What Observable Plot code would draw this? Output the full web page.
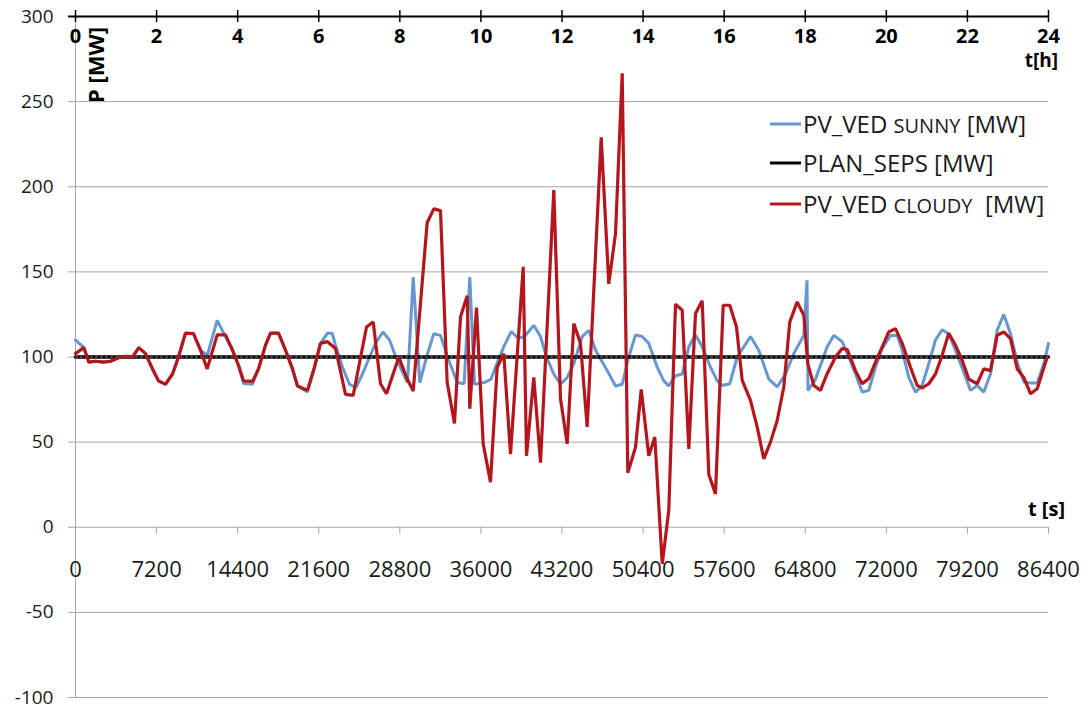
<!DOCTYPE html>
<html><head><meta charset="utf-8">
<script src="https://cdn.jsdelivr.net/npm/d3@7"></script>
<script src="https://cdn.jsdelivr.net/npm/@observablehq/plot@0.6"></script>
<style>body{margin:0;background:#fff}</style>
</head><body><div id="chart"></div>
<script>
// time in hours, power in MW
const sunnyH = [0,0.205,0.328,0.493,0.691,0.863,1.061,1.233,1.406,1.561,1.727,1.899,2.047,2.220,2.393,2.541,2.713,2.911,3.083,3.249,3.495,3.700,3.873,4.021,4.144,4.366,4.514,4.687,4.810,5.007,5.180,5.352,5.476,5.722,5.895,6.043,6.216,6.332,6.413,6.586,6.758,6.916,7.079,7.252,7.424,7.585,7.745,7.918,8.090,8.189,8.330,8.493,8.658,8.838,9.003,9.176,9.418,9.585,9.726,9.842,10.088,10.249,10.409,10.581,10.749,10.917,11.075,11.304,11.470,11.618,11.798,11.963,12.128,12.291,12.498,12.661,12.826,13.115,13.320,13.485,13.648,13.813,13.978,14.141,14.348,14.511,14.634,14.800,14.965,15.128,15.293,15.458,15.663,15.828,15.951,16.139,16.321,16.649,16.854,17.101,17.308,17.513,17.718,17.964,18.043,18.068,18.253,18.541,18.704,18.911,19.074,19.239,19.404,19.567,19.732,19.898,20.103,20.268,20.391,20.554,20.720,20.884,21.047,21.212,21.377,21.540,21.705,21.911,22.076,22.241,22.404,22.569,22.734,22.897,23.063,23.228,23.391,23.556,23.721,23.885,24.0];
const sunnyMW = [110,105.5,97,97.5,97,97.5,99.6,100.4,100,105.5,102,93,86,84,90,100,114,113.7,104,101,121.5,112,104,95,84.5,84,93,107,114,114,104,93,83,79.5,94,108,114,114,107,94,84,82,90,100,109,114.7,110,99,90,85,147,85,100,113.7,112.7,100,85,84.3,147,84,85,87,97,107,115,111,112,118.6,112,100,90,84,88,96,112,115.7,104,92,83,84,100,113,112,108,94,86,83,89,90,106,113,106,94,86,83.3,84.3,100,112,104,87,82.4,90,102,112.7,145,80.4,87,106,112.7,109,100,90,79.4,80.4,94,105,112.7,112.7,104,88,79.4,83.3,96,110,116,113.7,104,91,80.4,83.3,79.4,90,115.7,125,113.7,97,85.3,84.7,84.7,96,108];

const planH = [0, 24];
const planMW = [100, 100];

const cloudyH = [0,0.205,0.328,0.493,0.691,0.863,1.061,1.233,1.406,1.561,1.727,1.899,2.047,2.220,2.393,2.541,2.713,2.911,3.083,3.249,3.495,3.700,3.873,4.021,4.144,4.366,4.514,4.687,4.810,5.007,5.180,5.352,5.476,5.722,5.895,6.043,6.216,6.413,6.660,6.850,7.178,7.343,7.523,7.671,7.975,8.164,8.330,8.675,8.838,9.003,9.168,9.348,9.496,9.662,9.726,9.891,10.056,10.236,10.401,10.564,10.730,11.043,11.124,11.304,11.470,11.798,11.963,12.128,12.291,12.456,12.621,12.967,13.154,13.320,13.485,13.623,13.813,13.954,14.141,14.289,14.472,14.634,14.800,14.965,15.128,15.293,15.458,15.621,15.786,15.976,16.139,16.304,16.445,16.649,16.815,16.977,17.143,17.308,17.471,17.619,17.801,17.964,18.063,18.211,18.376,18.541,18.746,18.911,19.035,19.239,19.404,19.567,19.732,19.898,20.060,20.226,20.391,20.596,20.761,20.884,21.047,21.212,21.377,21.540,21.705,21.871,22.034,22.241,22.404,22.569,22.734,22.897,23.063,23.228,23.391,23.556,23.721,23.968];
const cloudyMW = [102,105.5,97,97.5,97,97.5,99.6,100.4,100,105.5,102,93,86,84,90,100,114,113.7,104,93,113,113,104,95,86,85.7,93,107,114,114,104,93,83,80.5,94,108,109,105,78,77.5,117.6,120.6,84.3,78.4,100,88,80,179,187,186,85,61,123.5,136,69.6,129,49,26.5,94,102,43,153,42,88,38,198,75.5,49,119.6,108,59,229,143,172.5,266.7,32,47,81,42,53,-21.6,10,131,127.5,46,125.5,133,31,19.6,130.4,130.4,117.6,86.3,74.5,58.8,40.2,50,62.7,82.4,120.6,132.4,124.5,96,83.3,80.4,90.2,100,105,104.3,92,84.3,87.3,97,106,114.7,116.7,108,94,83.3,81.8,84.3,90,101,114,107,98,87,84.3,93,92,112.7,114.7,110.8,93,88,78.4,81.4,100];

const yTicks = [-100, -50, 0, 50, 100, 150, 200, 250, 300];
const hourTicks = [0, 2, 4, 6, 8, 10, 12, 14, 16, 18, 20, 22, 24];
const secTicks = [0, 7200, 14400, 21600, 28800, 36000, 43200, 50400, 57600, 64800, 72000, 79200, 86400];

const seriesNames = [["PV_VED ", "SUNNY", " [MW]"], ["PLAN_SEPS [MW]", "", ""], ["PV_VED ", "CLOUDY", "  [MW]"]];
const seriesColors = ["#6797cf", "#000000", "#b3161c"];

const rows = (h, v) => h.map((t, i) => ({t, v: v[i]}));
const sunny = rows(sunnyH, sunnyMW);
const plan = rows(planH, planMW);
const cloudy = rows(cloudyH, cloudyMW);

const grid = "#a6a6a6";
const plot = Plot.plot({
  width: 1088, height: 707,
  marginLeft: 75, marginRight: 40, marginTop: 16, marginBottom: 10,
  style: {fontFamily: "'Open Sans', sans-serif", background: "white", overflow: "visible"},
  x: {domain: [0, 24], axis: null},
  y: {domain: [-100, 300], axis: null},
  marks: [
    Plot.ruleY(yTicks.filter(d => d !== 300), {stroke: grid, strokeWidth: 1, insetLeft: -7}),
    Plot.ruleX([0], {stroke: grid, strokeWidth: 1}),
    Plot.ruleX(secTicks, {x: d => d / 3600, y1: 0, y2: 0, insetTop: 0, insetBottom: -7, stroke: grid}),
    Plot.axisY(yTicks, {tickSize: 0, tickPadding: 22, fontSize: 19, fill: "#1a1a1a", label: null, tickFormat: d => String(d)}),
    Plot.text(secTicks, {x: d => d / 3600, y: 0, dy: 43, text: d => String(d), fontSize: 22, fill: "#1a1a1a"}),
    Plot.line(sunny, {x: "t", y: "v", stroke: seriesColors[0], strokeWidth: 3, strokeLinejoin: "miter"}),
    Plot.line(plan, {x: "t", y: "v", stroke: seriesColors[1], strokeWidth: 3.5}),
    Plot.line(plan, {x: "t", y: "v", stroke: "white", strokeWidth: 1, strokeDasharray: "2,3", strokeOpacity: 0.55}),
    Plot.line(cloudy, {x: "t", y: "v", stroke: seriesColors[2], strokeWidth: 3.2, strokeLinejoin: "miter"}),
    Plot.ruleY([300], {stroke: "black", strokeWidth: 2, insetLeft: -7}),
    Plot.ruleX(hourTicks, {x: d => d, y1: 300, y2: 300, insetTop: -6, insetBottom: -6, stroke: "black", strokeWidth: 1.5}),
    Plot.text(hourTicks, {x: d => d, y: 300, dy: 20, text: d => String(d), fontWeight: "bold", fontSize: 20, fill: "black"})
  ]
});

const svg = d3.select(plot);
const ann = svg.append("g").attr("font-family", "'Open Sans', sans-serif").attr("fill", "black").attr("text-anchor", "start");
ann.append("text").attr("transform", "translate(104,103) rotate(-90)").attr("text-anchor", "start")
  .attr("font-weight", "bold").attr("font-size", 22).text("P [MW]");
ann.append("text").attr("x", 1058).attr("y", 60).attr("dy", "0.35em").attr("text-anchor", "end")
  .attr("font-weight", "bold").attr("font-size", 19).text("t[h]");
ann.append("text").attr("x", 1065).attr("y", 509).attr("dy", "0.35em").attr("text-anchor", "end")
  .attr("font-weight", "bold").attr("font-size", 20).text("t [s]");

const legendY = [124, 163, 204];
seriesNames.forEach((parts, i) => {
  const y = legendY[i];
  ann.append("line").attr("x1", 770).attr("x2", 801).attr("y1", y).attr("y2", y)
    .attr("stroke", seriesColors[i]).attr("stroke-width", 3);
  const t = ann.append("text").attr("x", 803).attr("y", y).attr("dy", "0.36em").attr("text-anchor", "start")
    .attr("font-size", 24).attr("fill", "#1a1a1a").attr("xml:space", "preserve").style("white-space", "pre");
  t.append("tspan").text(parts[0]);
  if (parts[1]) t.append("tspan").attr("font-size", 20).text(parts[1]);
  if (parts[2]) t.append("tspan").text(parts[2]);
});

document.getElementById("chart").appendChild(plot);
</script>
</body></html>
